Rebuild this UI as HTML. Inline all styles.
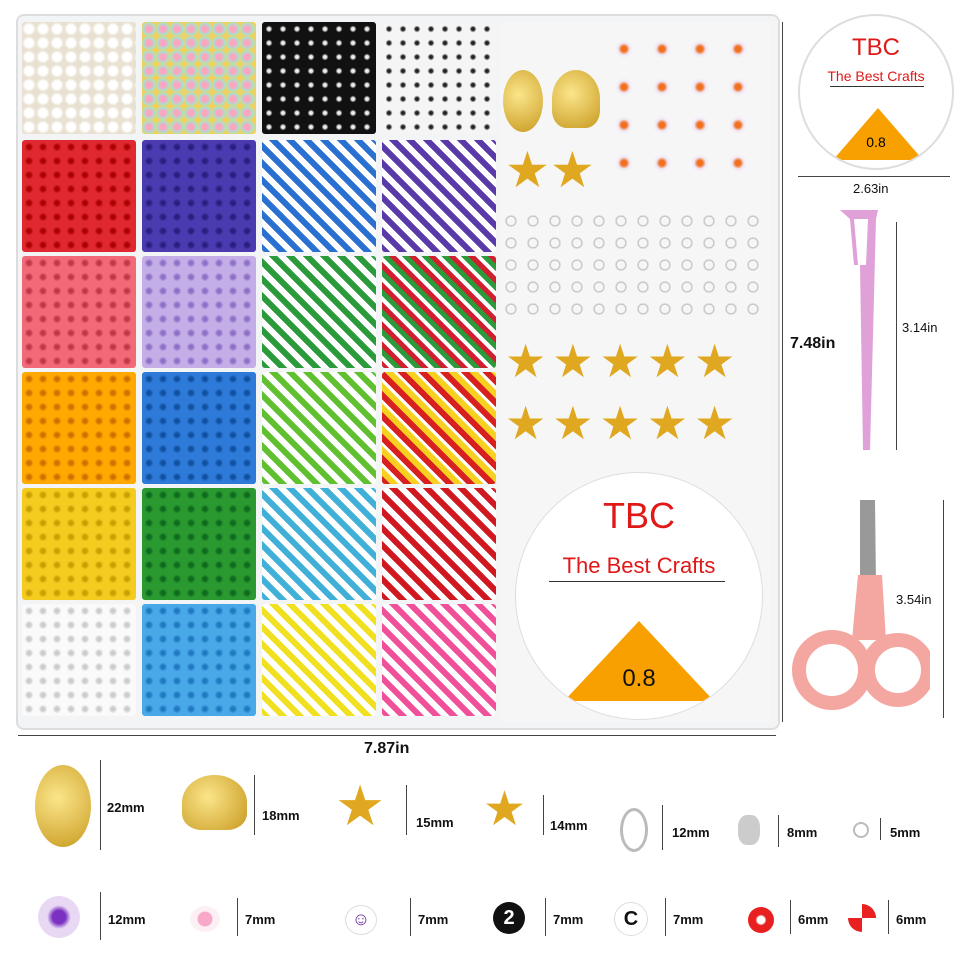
<!DOCTYPE html>
<html><head><meta charset="utf-8"><style>
body{margin:0;width:960px;height:960px;background:#fff;position:relative;overflow:hidden;font-family:"Liberation Sans",sans-serif}
.a{position:absolute}
.box{left:16px;top:14px;width:760px;height:712px;border:2px solid #ddd;border-radius:8px;background:#f3f4f6}
.c{position:absolute;width:114px;height:112px;border-radius:3px}
.t{font-size:13px;color:#111;font-weight:bold}
.m{font-size:13px;color:#111}
.dl{position:absolute;border-left:1px solid #444}
</style></head><body>
<div class="a box"></div>
<div id="g"></div>
<script>
var cols=[22,142,262,382],rows=[22,140,256,372,488,604];
var cells=[
["radial-gradient(circle,#fff 40%,#e8e0d0 70%)","radial-gradient(circle,#f7a8c0 30%,#a8e0d0 55%,#f0d060 80%)","radial-gradient(circle,#eee 15%,#111 35%)","radial-gradient(circle,#222 15%,#f5f5f5 35%)"],
["radial-gradient(circle,#a00 18%,#e02830 45%)","radial-gradient(circle,#2a1e80 18%,#4a3cb0 45%)","repeating-linear-gradient(45deg,#2a70d0 0 6px,#fff 6px 12px)","repeating-linear-gradient(45deg,#5a3aa8 0 6px,#fff 6px 12px)"],
["radial-gradient(circle,#c03848 18%,#f26a78 45%)","radial-gradient(circle,#8e70c8 18%,#c4aee8 45%)","repeating-linear-gradient(45deg,#2a9a3a 0 6px,#fff 6px 12px)","repeating-linear-gradient(45deg,#d02030 0 5px,#fff 5px 9px,#2a9a3a 9px 14px)"],
["radial-gradient(circle,#d07000 18%,#ffa800 45%)","radial-gradient(circle,#1050a0 18%,#2e7ad8 45%)","repeating-linear-gradient(45deg,#60c030 0 6px,#fff 6px 12px)","repeating-linear-gradient(45deg,#d82020 0 6px,#f8d020 6px 12px,#fff 12px 15px)"],
["radial-gradient(circle,#c8a000 18%,#f4cc20 45%)","radial-gradient(circle,#0e6a1e 18%,#2a9a30 45%)","repeating-linear-gradient(45deg,#40b0d8 0 6px,#fff 6px 12px)","repeating-linear-gradient(45deg,#d01820 0 6px,#fff 6px 12px)"],
["radial-gradient(circle,#ccc 18%,#fafafa 45%)","radial-gradient(circle,#1f78c0 18%,#48a8e8 45%)","repeating-linear-gradient(45deg,#f0e020 0 6px,#fff 6px 12px)","repeating-linear-gradient(45deg,#f0509a 0 6px,#fff 6px 12px)"]];
var h='';
for(var r=0;r<6;r++)for(var c=0;c<4;c++){h+='<div class="c" style="left:'+cols[c]+'px;top:'+rows[r]+'px;background:'+cells[r][c]+';background-size:'+(cells[r][c].indexOf('radial')==0?'14px 14px':'auto')+'"></div>';}
document.getElementById('g').innerHTML=h;
</script>
<div class="a" style="left:500px;top:22px;width:270px;height:700px;background:#f6f6f6"></div>
<div class="a" style="left:503px;top:70px;width:40px;height:62px;border-radius:50%;background:radial-gradient(circle at 40% 40%,#fbe58a,#c89a20)"></div>
<div class="a" style="left:552px;top:70px;width:48px;height:58px;border-radius:50% 50% 30% 30%;background:radial-gradient(circle at 40% 40%,#fbe58a,#c89a20)"></div>
<div class="a" style="left:505px;top:145px;font-size:50px;color:#e0a820;line-height:1">★</div>
<div class="a" style="left:550px;top:145px;font-size:50px;color:#e0a820;line-height:1">★</div>
<div class="a" style="left:605px;top:30px;width:150px;height:150px;background:radial-gradient(circle,#f07020 10%,#f0e8f8 22%,transparent 34%);background-size:38px 38px"></div>
<div class="a" style="left:500px;top:210px;width:260px;height:110px;background:radial-gradient(circle,transparent 25%,#bbb 30%,transparent 40%);background-size:22px 22px"></div>
<div class="a" style="left:505px;top:330px;width:250px;height:130px;color:#e0a820;font-size:46px;line-height:62px;letter-spacing:6px">★★★★★<br>★★★★★</div>
<div class="a" style="left:515px;top:472px;width:246px;height:246px;border-radius:50%;background:#fff;border:1px solid #ddd;overflow:hidden">
 <div class="a" style="left:0;width:246px;top:22px;text-align:center;color:#e01818;font-size:36px">TBC</div>
 <div class="a" style="left:0;width:246px;top:80px;text-align:center;color:#e01818;font-size:22px">The Best Crafts</div>
 <div class="a" style="left:33px;top:108px;width:176px;border-top:1px solid #333"></div>
 <div class="a" style="left:48px;top:148px;width:0;height:0;border-left:75px solid transparent;border-right:75px solid transparent;border-bottom:80px solid #f8a000"></div>
 <div class="a" style="left:0;width:246px;top:192px;text-align:center;font-size:24px;color:#111">0.8</div>
</div>
<div class="a" style="left:798px;top:14px;width:152px;height:152px;border-radius:50%;background:#fff;border:2px solid #ddd;overflow:hidden">
 <div class="a" style="left:0;width:152px;top:18px;text-align:center;color:#e01818;font-size:24px">TBC</div>
 <div class="a" style="left:0;width:152px;top:52px;text-align:center;color:#e01818;font-size:14px">The Best Crafts</div>
 <div class="a" style="left:30px;top:70px;width:94px;border-top:1px solid #333"></div>
 <div class="a" style="left:33px;top:92px;width:0;height:0;border-left:45px solid transparent;border-right:45px solid transparent;border-bottom:52px solid #f8a000"></div>
 <div class="a" style="left:0;width:152px;top:118px;text-align:center;font-size:14px">0.8</div>
</div>
<div class="a" style="left:798px;top:176px;width:152px;border-top:1px solid #444"></div>
<div class="a m" style="left:853px;top:181px">2.63in</div>
<svg class="a" style="left:830px;top:205px" width="60" height="250"><path d="M10 5 L48 5 L46 14 L40 245 L33 245 L30 60 L24 60 L20 14 Z" fill="#e0a0d8"/><path d="M24 14 L38 14 L36 60 L28 60Z" fill="#fff"/></svg>
<div class="dl" style="left:896px;top:222px;height:228px"></div>
<div class="a m" style="left:902px;top:320px">3.14in</div>
<div class="a t" style="left:790px;top:335px;font-size:16px">7.48in</div>
<div class="dl" style="left:782px;top:22px;height:700px"></div>
<svg class="a" style="left:790px;top:495px" width="140" height="230"><path d="M70 5 L85 5 L86 90 L70 90Z" fill="#999"/><circle cx="42" cy="175" r="33" fill="none" stroke="#f4a6a0" stroke-width="14"/><circle cx="108" cy="175" r="30" fill="none" stroke="#f4a6a0" stroke-width="14"/><path d="M62 145 L68 80 L92 80 L96 145Z" fill="#f4a6a0"/></svg>
<div class="dl" style="left:943px;top:500px;height:218px"></div>
<div class="a m" style="left:896px;top:592px">3.54in</div>
<div class="a" style="left:18px;top:735px;width:758px;border-top:1px solid #444"></div>
<div class="a t" style="left:364px;top:740px;font-size:16px">7.87in</div>
<div class="a" style="left:35px;top:765px;width:56px;height:82px;border-radius:50%;background:radial-gradient(circle at 40% 40%,#fbe58a,#c89a20)"></div>
<div class="dl" style="left:100px;top:760px;height:90px"></div><div class="a t" style="left:107px;top:800px">22mm</div>
<div class="a" style="left:182px;top:775px;width:65px;height:55px;border-radius:50% 50% 30% 30%;background:radial-gradient(circle at 40% 40%,#fbe58a,#c89a20)"></div>
<div class="dl" style="left:254px;top:775px;height:60px"></div><div class="a t" style="left:262px;top:808px">18mm</div>
<div class="a" style="left:335px;top:778px;font-size:56px;color:#e0a820;line-height:1">★</div>
<div class="dl" style="left:406px;top:785px;height:50px"></div><div class="a t" style="left:416px;top:815px">15mm</div>
<div class="a" style="left:483px;top:786px;font-size:48px;color:#e0a820;line-height:1">★</div>
<div class="dl" style="left:543px;top:795px;height:40px"></div><div class="a t" style="left:550px;top:818px">14mm</div>
<div class="a" style="left:620px;top:808px;width:22px;height:38px;border:3px solid #bbb;border-radius:50%"></div>
<div class="dl" style="left:662px;top:805px;height:45px"></div><div class="a t" style="left:672px;top:825px">12mm</div>
<div class="a" style="left:738px;top:815px;width:22px;height:30px;background:#ccc;border-radius:40%"></div>
<div class="dl" style="left:778px;top:815px;height:32px"></div><div class="a t" style="left:787px;top:825px">8mm</div>
<div class="a" style="left:853px;top:822px;width:12px;height:12px;border:2px solid #bbb;border-radius:50%"></div>
<div class="dl" style="left:880px;top:818px;height:22px"></div><div class="a t" style="left:890px;top:825px">5mm</div>
<div class="a" style="left:38px;top:896px;width:42px;height:42px;border-radius:50%;background:radial-gradient(circle,#7a30c0 22%,#e8d8f4 40%)"></div>
<div class="dl" style="left:100px;top:892px;height:48px"></div><div class="a t" style="left:108px;top:912px">12mm</div>
<div class="a" style="left:190px;top:906px;width:30px;height:26px;border-radius:50%;background:radial-gradient(circle,#f8a8c8 35%,#fdf0f4 40%)"></div>
<div class="dl" style="left:237px;top:898px;height:38px"></div><div class="a t" style="left:245px;top:912px">7mm</div>
<div class="a" style="left:345px;top:905px;width:30px;height:28px;border-radius:50%;background:#fff;border:1px solid #ddd;text-align:center;color:#6a2aa0;font-size:18px;line-height:26px">☺</div>
<div class="dl" style="left:410px;top:898px;height:38px"></div><div class="a t" style="left:418px;top:912px">7mm</div>
<div class="a" style="left:493px;top:902px;width:32px;height:32px;border-radius:50%;background:#111;color:#fff;text-align:center;font-weight:bold;font-size:20px;line-height:32px">2</div>
<div class="dl" style="left:545px;top:898px;height:38px"></div><div class="a t" style="left:553px;top:912px">7mm</div>
<div class="a" style="left:614px;top:902px;width:32px;height:32px;border-radius:50%;background:#fff;border:1px solid #ddd;color:#111;text-align:center;font-weight:bold;font-size:20px;line-height:32px">C</div>
<div class="dl" style="left:665px;top:898px;height:38px"></div><div class="a t" style="left:673px;top:912px">7mm</div>
<div class="a" style="left:748px;top:907px;width:26px;height:26px;border-radius:50%;background:radial-gradient(circle,#fff 20%,#e82020 30%)"></div>
<div class="dl" style="left:790px;top:900px;height:34px"></div><div class="a t" style="left:798px;top:912px">6mm</div>
<div class="a" style="left:848px;top:904px;width:28px;height:28px;border-radius:50%;background:conic-gradient(#e82020 0 25%,#fff 0 50%,#e82020 0 75%,#fff 0)"></div>
<div class="dl" style="left:888px;top:900px;height:34px"></div><div class="a t" style="left:896px;top:912px">6mm</div>
</body></html>
